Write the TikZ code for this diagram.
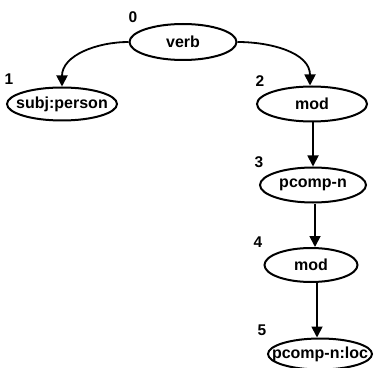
\documentclass[tikz,border=0pt]{standalone}
\usepackage{fontspec}
\setmainfont{Liberation Sans}
\usetikzlibrary{shapes.geometric,arrows.meta}
\newcommand{\nbox}[1]{\makebox[0pt]{#1}}
\begin{document}
\begin{tikzpicture}[x=1pt,y=1pt,
  nd/.style={draw,line width=2pt,ellipse,inner sep=0pt,font=\fontsize{16}{16}\selectfont\bfseries},
  num/.style={font=\fontsize{15.5}{15.5}\selectfont\bfseries,inner sep=0pt},
  arr/.style={line width=1.8pt,-{Triangle[length=11pt,width=11pt]}}]
\useasboundingbox (0,0) rectangle (374,367);
\node[nd,minimum width=107pt,minimum height=36pt] (verb) at (183,325) {\nbox{verb}};
\node[nd,minimum width=110pt,minimum height=33pt] (subj) at (62,263) {\nbox{subj:person}};
\node[nd,minimum width=110pt,minimum height=35pt] (mod2) at (312,263) {\nbox{mod}};
\node[nd,minimum width=106pt,minimum height=35pt] (pcomp) at (313,182) {\nbox{pcomp-n}};
\node[nd,minimum width=93pt,minimum height=34pt] (mod4) at (311,102) {\nbox{mod}};
\node[nd,minimum width=104pt,minimum height=31pt] (loc) at (320,13) {\nbox{pcomp-n:loc}};
\node[num] (n0) at (133,350) {0};
\node[num] (n1) at (9,288) {1};
\node[num] (n2) at (260,286) {2};
\node[num] (n3) at (259,205) {3};
\node[num] (n4) at (258,125) {4};
\node[num] (n5) at (262,37) {5};
\draw[arr] (verb.west) to[out=180,in=90] (subj.north);
\draw[arr] (verb.east) to[out=0,in=90] ([xshift=-2pt]mod2.north);
\draw[arr] (pcomp.north |- mod2.south) -- (pcomp.north);
\coordinate (t4) at ([xshift=4pt]mod4.north);
\draw[arr] (t4 |- pcomp.south) -- (t4);
\coordinate (t5) at ([xshift=-3pt]loc.north);
\draw[arr] (t5 |- mod4.south) -- (t5);
\end{tikzpicture}
\end{document}
